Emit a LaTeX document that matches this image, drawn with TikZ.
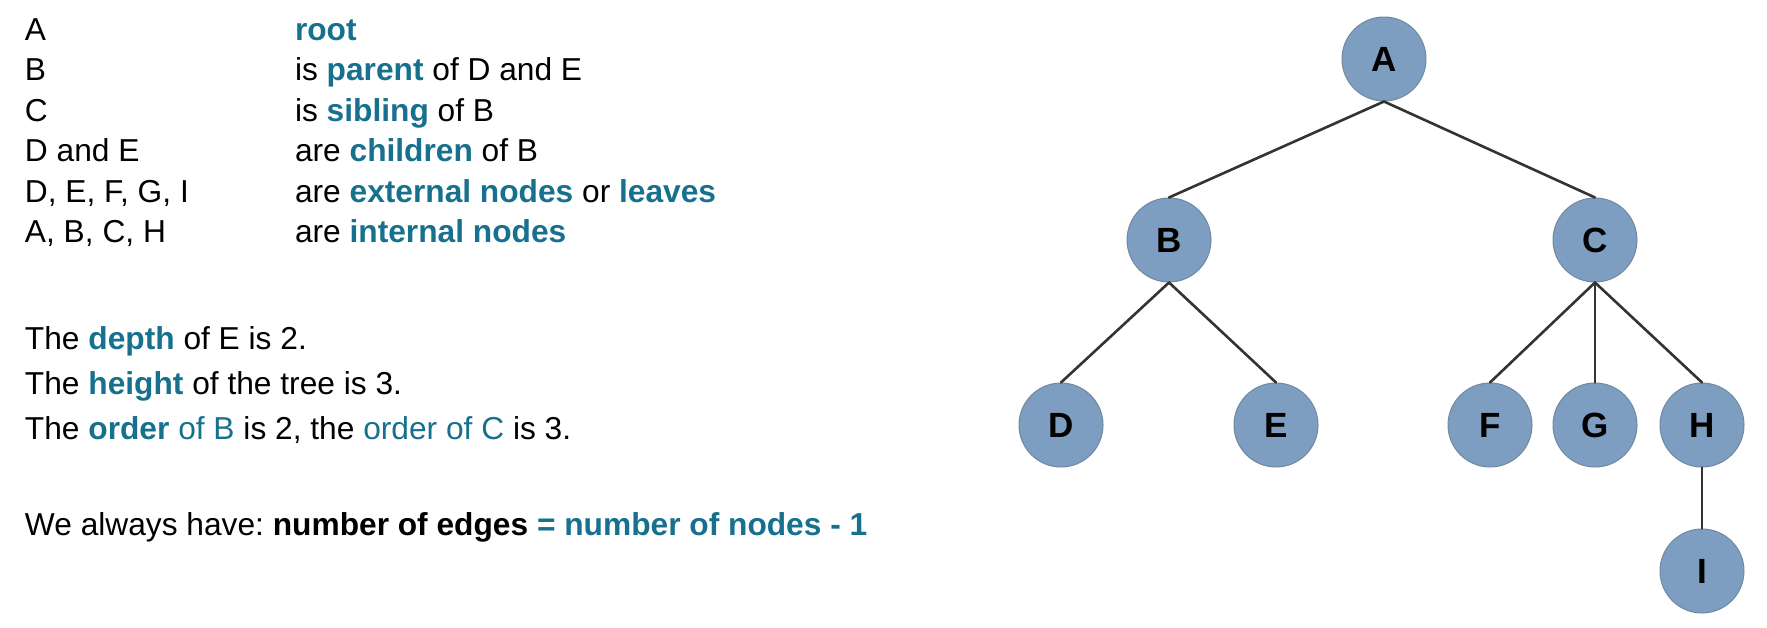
\documentclass[tikz,border=0pt]{standalone}
\usepackage{fontspec}
\setmainfont{Liberation Sans}
\usepackage{tikz}

\definecolor{termblue}{HTML}{17708E}
\definecolor{nodefill}{HTML}{7D9EC0}
\definecolor{nodeline}{HTML}{7088A0}
\definecolor{edgegray}{HTML}{333333}

\newcommand{\termb}[1]{\textbf{\color{termblue}#1}}
\newcommand{\terml}[1]{{\color{termblue}#1}}
\frenchspacing

\begin{document}
\begin{tikzpicture}[%
        x = 0.5pt,
        y = -0.5pt,
        line cap = round,
        plaintext/.style = {
            anchor = base west,
            inner sep = 0,
            outer sep = 0,
            font = \fontsize{15.85}{19}\selectfont
        },
        treenode/.style = {
            circle,
            fill = nodefill,
            draw = nodeline,
            line width = 0.5pt,
            minimum size = 42pt,
            inner sep = 0,
            font = \fontsize{17.5}{20}\selectfont\bfseries
        },
        treeedge/.style = {
            draw = edgegray,
            line width = 1.3pt
        }
    ]

        % Fix the page to the size of the reference.
        \useasboundingbox (0, 0) rectangle (1767, 627);

        % Left column: the node names.
        \node[plaintext] at (25, 40)    (k1) {A};
        \node[plaintext] at (25, 80.5)  (k2) {B};
        \node[plaintext] at (25, 121)   (k3) {C};
        \node[plaintext] at (25, 161.5) (k4) {D and E};
        \node[plaintext] at (25, 202)   (k5) {D, E, F, G, I};
        \node[plaintext] at (25, 242.5) (k6) {A, B, C, H};

        % Right column: what they are.
        \node[plaintext] at (295, 40)    (v1) {\termb{root}};
        \node[plaintext] at (295, 80.5)  (v2) {is \termb{parent} of D and E};
        \node[plaintext] at (295, 121)   (v3) {is \termb{sibling} of B};
        \node[plaintext] at (295, 161.5) (v4) {are \termb{children} of B};
        \node[plaintext] at (295, 202)   (v5) {are \termb{external nodes} or \termb{leaves}};
        \node[plaintext] at (295, 242.5) (v6) {are \termb{internal nodes}};

        % Depth, height and order.
        \node[plaintext] at (25, 349) (depth)  {The \termb{depth} of E is 2.};
        \node[plaintext] at (25, 394) (height) {The \termb{height} of the tree is 3.};
        \node[plaintext] at (25, 439) (order)
            {The \termb{order} \terml{of B} is 2, the \terml{order of C} is 3.};

        % Edges versus nodes.
        \node[plaintext] at (25, 535) (rule)
            {We always have: \textbf{number of edges} \termb{= number of nodes - 1}};

        % Nodes of the tree.
        \node[treenode] at (1384, 59)  (A) {A};
        \node[treenode] at (1169, 240) (B) {B};
        \node[treenode] at (1595, 240) (C) {C};
        \node[treenode] at (1061, 425) (D) {D};
        \node[treenode] at (1276, 425) (E) {E};
        \node[treenode] at (1490, 425) (F) {F};
        \node[treenode] at (1595, 425) (G) {G};
        \node[treenode] at (1702, 425) (H) {H};
        \node[treenode] at (1702, 571) (I) {I};

        % Edges of the tree.
        \begin{scope}[treeedge]
            \draw (A.south) -- (B.north);
            \draw (A.south) -- (C.north);
            \draw (B.south) -- (D.north);
            \draw (B.south) -- (E.north);
            \draw (C.south) -- (F.north);
            \draw (C.south) -- (G.north);
            \draw (C.south) -- (H.north);
            \draw (H.south) -- (I.north);
        \end{scope}
    \end{tikzpicture}
\end{document}
